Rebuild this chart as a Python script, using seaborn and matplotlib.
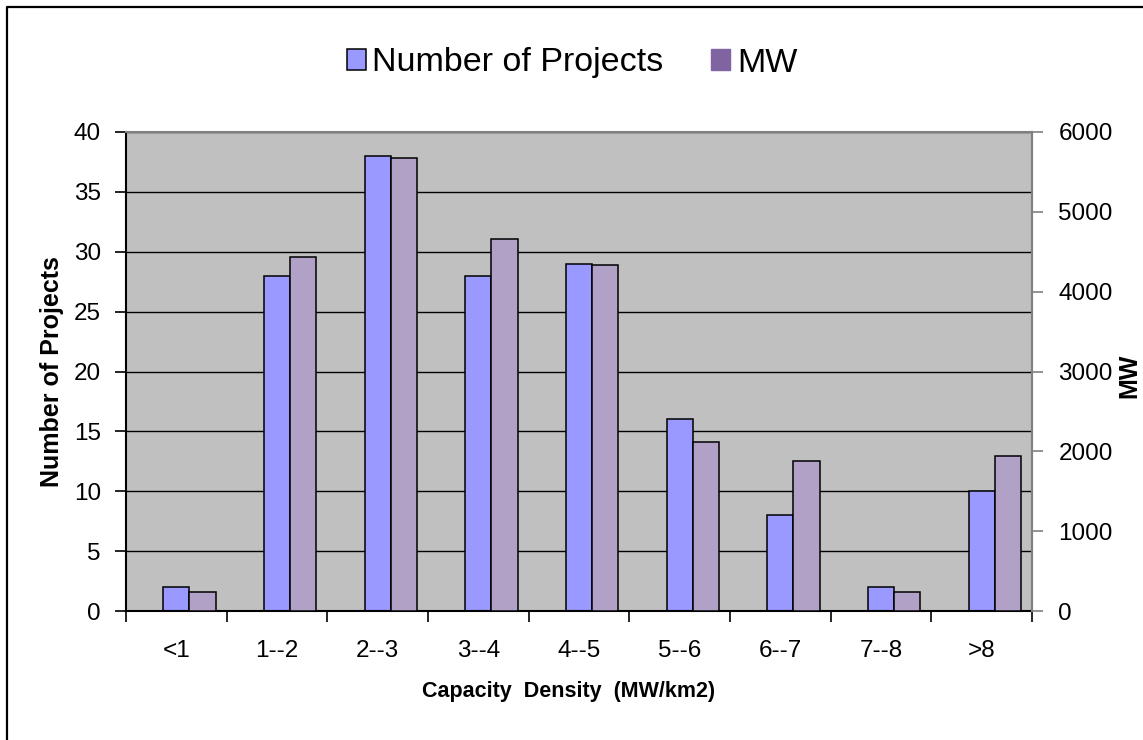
import numpy as np
import pandas as pd
import seaborn as sns
import matplotlib.pyplot as plt
from matplotlib.patches import Patch
from matplotlib.lines import Line2D

# values
categories = ['<1', '1--2', '2--3', '3--4', '4--5', '5--6', '6--7', '7--8', '>8']
projects = [2, 28, 38, 28, 29, 16, 8, 2, 10]
mw = [240, 4440, 5680, 4660, 4335, 2115, 1875, 240, 1945]

df = pd.DataFrame({'density': categories, 'projects': projects, 'mw': mw})

sns.set_style('white')
plt.rcParams['font.family'] = ['Liberation Sans', 'DejaVu Sans']
plt.rcParams['text.color'] = 'black'
plt.rcParams['axes.labelcolor'] = 'black'
plt.rcParams['xtick.color'] = 'black'
plt.rcParams['ytick.color'] = 'black'

fig = plt.figure(figsize=(11.43, 7.40), dpi=100)
ax = fig.add_axes([126 / 1143, 1 - 611 / 740, 906 / 1143, 479 / 740])
ax.set_facecolor('#C0C0C0')
ax2 = ax.twinx()

bar_w = 0.26
sns.barplot(data=df, x='density', y='projects', ax=ax, color='#9999FF', saturation=1,
            width=bar_w, edgecolor='black', linewidth=1.1)
sns.barplot(data=df, x='density', y='mw', ax=ax2, color='#B2A1C7', saturation=1,
            width=bar_w, edgecolor='black', linewidth=1.1)
# MW bars sit just right of the project bars
for p in ax2.patches:
    p.set_x(p.get_x() + bar_w)

ax.set_xlim(-0.5, 8.5)
ax.set_ylim(0, 40)
ax2.set_ylim(0, 6000)

# left axis
ax.set_yticks(range(0, 41, 5))
ax.tick_params(axis='y', direction='out', length=8, width=1.2, color='black',
               labelcolor='black', pad=10, labelsize=17.5, left=True)
ax.yaxis.grid(True, color='black', lw=1)
ax.set_axisbelow(True)

# x axis: labels at centres, ticks at boundaries
ax.set_xticks(range(len(categories)))
ax.set_xticklabels(categories)
ax.tick_params(axis='x', which='major', length=0, pad=21, labelsize=17.5,
               labelcolor='black')
ax.set_xticks(np.arange(-0.5, len(categories), 1), minor=True)
ax.tick_params(axis='x', which='minor', direction='out', length=8, width=1.2,
               color='black', bottom=True)

# right axis
ax2.set_yticks(range(0, 6001, 1000))
ax2.tick_params(axis='y', direction='out', length=8, width=1.2, color='#808080',
                labelcolor='black', pad=11, labelsize=17.5, right=True)

for s in ['left', 'bottom']:
    ax.spines[s].set_color('black')
    ax.spines[s].set_linewidth(1.5)
for s in ['top', 'right']:
    ax.spines[s].set_color('#808080')
    ax.spines[s].set_linewidth(1.5)
for s in ['left', 'bottom', 'top']:
    ax2.spines[s].set_visible(False)
ax2.spines['right'].set_color('#808080')
ax2.spines['right'].set_linewidth(1.5)

ax.set_xlabel('Capacity  Density  (MW/km2)', fontsize=15.5, fontweight='bold')
ax.xaxis.label.set_va('center')
ax.xaxis.set_label_coords((569 - 126) / 906, (611 - 692) / 479)
ax.set_ylabel('Number of Projects', fontsize=18, fontweight='bold')
ax.yaxis.label.set_va('center')
ax.yaxis.set_label_coords((52 - 126) / 906, 0.5)
ax2.set_ylabel('MW', fontsize=18, fontweight='bold')
ax2.yaxis.label.set_va('center')
ax2.yaxis.set_label_coords((1129 - 126) / 906, 0.49)

handles = [Patch(facecolor='#9999FF', edgecolor='black', lw=1.1),
           Patch(facecolor='#8064A2', edgecolor='#8064A2')]
fig.legend(handles=handles, labels=['Number of Projects', 'MW'], loc='center',
           bbox_to_anchor=(572 / 1143, 1 - 63 / 740), ncol=2, frameon=False,
           fontsize=24.5, handlelength=0.56, handleheight=0.56,
           handletextpad=0.2, columnspacing=1.4)

# outer frame (only left and top edges fall inside the picture)
fig.add_artist(Line2D([7 / 1143, 7 / 1143, 1.0], [0, 1 - 7 / 740, 1 - 7 / 740],
                      color='black', lw=1.6, transform=fig.transFigure))

fig.savefig('out.png', dpi=100)
